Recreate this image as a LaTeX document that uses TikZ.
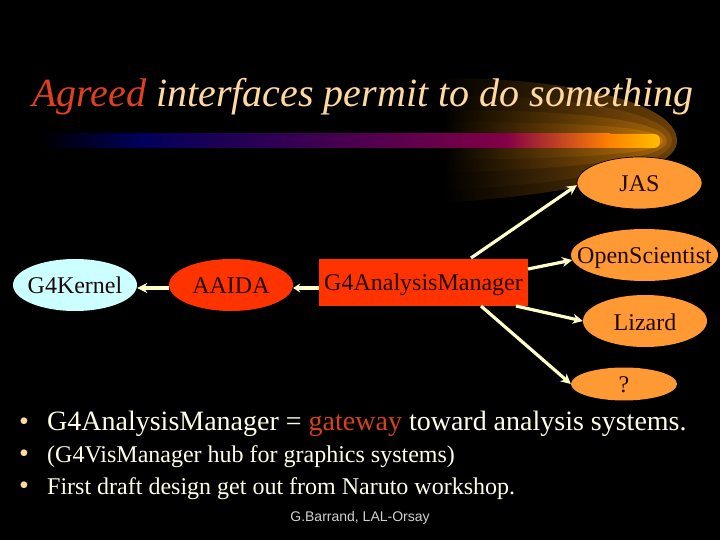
\documentclass[tikz,border=0pt]{standalone}
\usepackage{fontspec}
\setmainfont{Liberation Serif}
\newfontfamily\footfont{Liberation Sans}
\usetikzlibrary{shapes.geometric,arrows.meta}
\definecolor{cream}{HTML}{FFFFCC}
\definecolor{titlecol}{HTML}{FFD9A0}
\definecolor{bodycol}{HTML}{FFFFE8}
\definecolor{redcol}{HTML}{FF3300}
\definecolor{agreed}{HTML}{E04020}
\definecolor{gatecol}{HTML}{D84020}
\definecolor{orangecol}{HTML}{FF9933}
\definecolor{icecol}{HTML}{CCFFFF}
\definecolor{inkcol}{HTML}{200808}
\definecolor{footcol}{HTML}{D0D0D0}
\definecolor{glowa}{HTML}{6A4006}
\definecolor{glowb}{HTML}{85500A}
\definecolor{glowc}{HTML}{A56408}
\definecolor{glowd}{HTML}{C0740A}
\newcommand{\lift}[2]{\makebox[0pt][c]{\raisebox{-#1pt}[0pt][0pt]{#2}}}
\newcommand{\bul}[1]{\makebox[28pt][l]{\textcolor{titlecol}{\fontsize{#1}{#1}\selectfont •}}}
\tikzset{
  oval/.style={ellipse,draw=none,fill=orangecol,text=inkcol,inner sep=0pt,font=\fontsize{24}{26}\selectfont},
  linkarrow/.style={draw=cream,line width=3.2pt,-{Stealth[length=10pt,width=10pt]}},
  bulletline/.style={anchor=base west,text=bodycol,inner sep=0pt},
}
\begin{document}
\begin{tikzpicture}[x=1pt,y=-1pt]
\useasboundingbox (0,0) rectangle (720,540);
\fill[black] (0,0) rectangle (720,540);
% glow
\shade[left color=black,middle color=glowa!72!black,right color=glowa]
  (443,78) .. controls (560,78) and (677,100) .. (677,141) .. controls (677,175) and (560,195) .. (443,203) -- cycle;
\shade[left color=black,middle color=glowb!72!black,right color=glowb]
  (443,95) .. controls (570,95) and (672,112) .. (672,141) .. controls (672,165) and (570,185) .. (443,190) -- cycle;
\shade[left color=black,middle color=glowc!72!black,right color=glowc]
  (443,110) .. controls (590,110) and (667,122) .. (667,141) .. controls (667,158) and (590,168) .. (443,173) -- cycle;
\shade[left color=black,middle color=glowd!66!black,right color=glowd]
  (443,122) .. controls (600,122) and (663,128) .. (663,141) .. controls (663,153) and (600,158) .. (443,160) -- cycle;
% bar
\shade[left color=black,right color={rgb,255:red,0;green,0;blue,90}] (40,134) rectangle (140,148);
\shade[left color={rgb,255:red,0;green,0;blue,90},right color={rgb,255:red,130;green,0;blue,70}] (140,134) rectangle (505,148);
\shade[left color={rgb,255:red,130;green,0;blue,70},right color={rgb,255:red,255;green,130;blue,0}] (505,134) rectangle (610,148);
\shade[left color={rgb,255:red,255;green,130;blue,0},right color={rgb,255:red,255;green,190;blue,0}]
  (609.5,134) -- (653,134) .. controls (658,134) and (660,136) .. (660,141) .. controls (660,146) and (658,148) .. (653,148) -- (609.5,148) -- cycle;
% title
\node[anchor=base west,inner sep=0pt,font=\fontsize{40}{42}\selectfont\itshape] (title) at (32,107)
  {\textcolor{agreed}{Agreed} \textcolor{titlecol}{interfaces permit to do something}};
% nodes
\node[oval,fill=icecol,minimum width=124pt,minimum height=52pt] (kernel) at (75,285) {\lift{8}{G4Kernel}};
\node[oval,fill=redcol,minimum width=124pt,minimum height=52pt] (aaida) at (231,285) {\lift{8}{AAIDA}};
\node[fill=redcol,text=inkcol,minimum width=209pt,minimum height=47pt,inner sep=0pt,font=\fontsize{24}{26}\selectfont] (mgr) at (423.5,282.5) {\lift{7.5}{G4AnalysisManager}};
\node[oval,draw=black,line width=0.7pt,minimum width=125pt,minimum height=52pt] (jas) at (639.5,183) {\lift{9}{JAS}};
\node[oval,minimum width=147pt,minimum height=52pt] (open) at (644.5,255) {\lift{8}{OpenScientist}};
\node[oval,minimum width=124pt,minimum height=52pt] (lizard) at (645,321) {\lift{9}{Lizard}};
\node[oval,minimum width=106pt,minimum height=33pt] (unk) at (624,384) {\lift{8.5}{?}};
% connectors
\coordinate (m1) at (471,258);
\coordinate (m2) at (528,269);
\coordinate (m3) at (516,306);
\coordinate (m4) at (481,306);
\coordinate (m5) at (319,288);
\coordinate (a1) at (169,288);
\draw[linkarrow] (m1) -- (jas.182);
\draw[linkarrow] (m2) -- (open.184);
\draw[linkarrow] (m3) -- (lizard.west);
\draw[linkarrow] (m4) -- (unk.west);
\draw[linkarrow,-{Stealth[length=7pt,width=9pt]}] (m5) -- (aaida.east |- m5);
\draw[linkarrow] (a1) -- (kernel.east |- a1);
% text
\node[bulletline,font=\fontsize{28}{30}\selectfont] (b1) at (19,430) {\bul{28}G4AnalysisManager = \textcolor{gatecol}{gateway} toward analysis systems.};
\node[bulletline,font=\fontsize{24}{26}\selectfont] (b2) at (19,462) {\bul{28}(G4VisManager hub for graphics systems)};
\node[bulletline,font=\fontsize{24}{26}\selectfont] (b3) at (19,494) {\bul{28}First draft design get out from Naruto workshop.};
\node[anchor=base,text=footcol,inner sep=0pt,font=\footfont\fontsize{14}{15}\selectfont] (foot) at (360,521) {G.Barrand, LAL-Orsay};
\end{tikzpicture}
\end{document}
